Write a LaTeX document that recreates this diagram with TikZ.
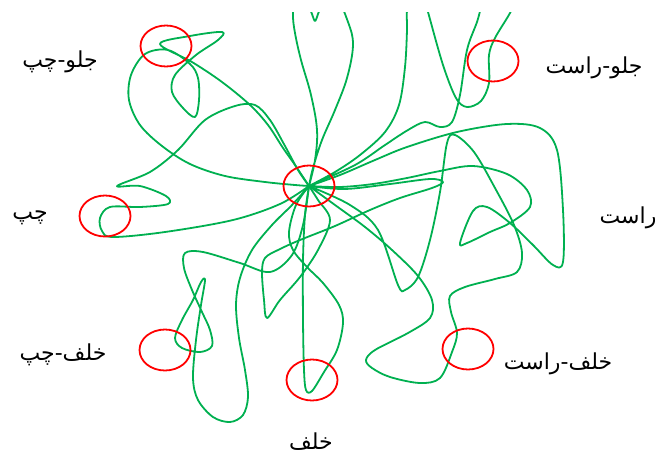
\documentclass[tikz,border=0pt]{standalone}
\usepackage{fontspec}
\usetikzlibrary{shapes.geometric}
\newfontfamily\arabicfont[Script=Arabic]{DejaVu Sans}
\TeXXeTstate=1
\definecolor{tgreen}{RGB}{0,176,80}
\definecolor{tred}{RGB}{255,0,0}
\tikzset{
  tangle/.style={draw=tgreen, line width=1.8pt, line join=round, line cap=round},
  ring/.style={ellipse, draw=tred, line width=1.8pt, minimum width=51pt, minimum height=41pt, inner sep=0pt},
  lbl/.style={font=\arabicfont\fontsize{22}{26}\selectfont, inner sep=0pt}
}
\begin{document}
\begin{tikzpicture}[x=1pt,y=-1pt]
\useasboundingbox (0,0) rectangle (655,458);
\begin{scope}
\clip (0,12) rectangle (655,458);
% top teardrop
\draw[tangle] plot[smooth,tension=0.6] coordinates {(309,186) (315,160) (317,130) (311,95) (301,60) (295,33) (293,14) (296,-5) (315,-15) (335,-5) (348,22) (353,45) (347,78) (335,110) (322,140) (313,168) (309,186)};
\draw[tangle] plot[smooth,tension=0.6] coordinates {(308,4) (312,14) (315,21) (318,14) (322,4)};
% front-left
\draw[tangle] plot[smooth,tension=0.55] coordinates {(309,186) (295,165) (283,148) (268,125) (250,105) (222,82) (192,62) (160,44) (190,36) (222,32) (218,40) (196,55) (175,75) (172,92) (183,108) (195,117) (199,100) (198,78) (190,64) (168,50) (145,54) (131,75) (129,100) (140,125) (162,146) (190,164) (225,176) (265,182) (295,185) (309,186)};
% left
\draw[tangle] plot[smooth,tension=0.55] coordinates {(309,186) (298,170) (285,146) (270,120) (255,105) (235,106) (205,120) (178,150) (150,172) (117,186) (140,186) (166,196) (168,204) (140,207) (110,207) (100,218) (102,231) (113,237) (165,232) (233,220) (280,204) (309,186)};
% front-right
\draw[tangle] plot[smooth,tension=0.55] coordinates {(309,186) (335,172) (360,155) (385,132) (399,105) (405,67) (407,30) (407,10) (412,-10) (422,-10) (428,12) (443,65) (456,98) (467,107) (481,101) (489,83) (489,55) (495,38) (510,13) (518,-5) (505,-15) (486,-5) (477,22) (467,50) (460,95) (452,122) (440,127) (425,122) (408,130) (385,145) (355,165) (309,186)};
% big right
\draw[tangle] plot[smooth,tension=0.55] coordinates {(309,186) (340,175) (375,160) (407,147) (457,132) (507,124) (540,128) (557,150) (563,210) (563,262) (553,265) (533,245) (510,223) (487,207) (473,211) (460,243) (467,243) (490,232) (510,223) (530,207) (527,190) (507,174) (473,166) (440,171) (407,178) (373,184) (340,187) (309,186)};
% narrow right teardrop and V
\draw[tangle] plot[smooth,tension=0.55] coordinates {(309,186) (345,189) (390,184) (430,179) (443,182) (432,188) (400,198) (370,210) (335,226) (300,240) (278,250) (265,258) (262,272) (264,300) (267,318) (280,300) (300,277) (318,250) (330,220) (318,200) (309,186)};
% back-left
\draw[tangle] plot[smooth,tension=0.55] coordinates {(309,186) (292,205) (272,225) (252,250) (240,278) (236,305) (239,338) (245,370) (248,397) (243,415) (230,422) (213,417) (198,400) (193,378) (196,340) (201,305) (205,280) (201,282) (193,300) (182,320) (175,338) (182,348) (200,352) (212,346) (210,330) (202,312) (192,290) (184,268) (185,253) (203,252) (240,263) (270,272) (292,255) (303,225) (309,186)};
% back
\draw[tangle] plot[smooth,tension=0.55] coordinates {(309,186) (305,215) (303,260) (303,320) (304,370) (306,390) (312,391) (324,372) (337,350) (343,323) (339,305) (323,283) (307,267) (293,250) (289,232) (296,205) (309,186)};
% back-right
\draw[tangle] plot[smooth,tension=0.55] coordinates {(309,186) (335,205) (365,227) (392,250) (418,276) (432,300) (430,318) (408,333) (375,350) (366,360) (372,368) (390,377) (420,383) (440,378) (452,352) (457,333) (451,312) (450,296) (465,287) (495,279) (517,272) (522,253) (514,225) (495,188) (474,152) (455,135) (447,143) (440,192) (430,240) (418,277) (405,290) (398,285) (378,230) (350,205) (309,186)};
\end{scope}
% red rings
\node[ring] (rfl) at (166,46) {};
\node[ring] (rfr) at (493,61) {};
\node[ring] (rc) at (309,186) {};
\node[ring] (rl) at (105,216) {};
\node[ring] (rbl) at (165,350) {};
\node[ring] (rb) at (312,380) {};
\node[ring] (rbr) at (468,349) {};
% labels
\node[lbl] (tfl) at (60,62) {\beginR جلو-چپ\endR};
\node[lbl] (tfr) at (594,68) {\beginR جلو-راست\endR};
\node[lbl] (tl) at (30,218) {\beginR چپ\endR};
\node[lbl] (tr) at (628,218) {\beginR راست\endR};
\node[lbl] (tbl) at (63,355) {\beginR خلف-چپ\endR};
\node[lbl] (tbr) at (558,364) {\beginR خلف-راست\endR};
\node[lbl] (tb) at (311,442) {\beginR خلف\endR};
\end{tikzpicture}
\end{document}
